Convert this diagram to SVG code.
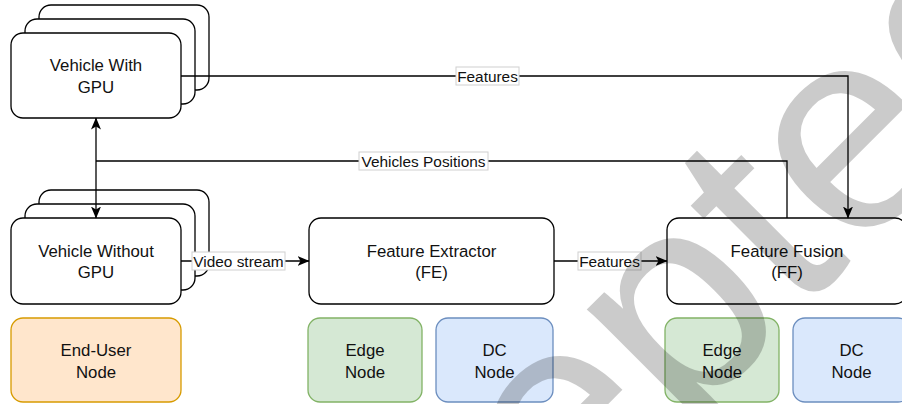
<svg xmlns="http://www.w3.org/2000/svg" width="902" height="404" viewBox="0 0 902 404">
<defs>
<style>
.box{fill:#fff;stroke:#000;stroke-width:1.3}
.t{font-family:"Liberation Sans",Arial,sans-serif;font-size:16.8px;fill:#111;text-anchor:middle}
.lt{font-family:"Liberation Sans",Arial,sans-serif;font-size:15.4px;fill:#111;text-anchor:middle}
.lbl{fill:#fff;stroke:#d0d0d0;stroke-width:1}
.edge{fill:none;stroke:#000;stroke-width:1.3}
.eu{fill:#ffe6cc;stroke:#d79b00;stroke-width:1.3}
.ed{fill:#d5e8d4;stroke:#82b366;stroke-width:1.3}
.dc{fill:#dae8fc;stroke:#6c8ebf;stroke-width:1.3}
</style>
<marker id="arr" viewBox="0 0 12 10" refX="11.5" refY="5" markerWidth="12" markerHeight="10" markerUnits="userSpaceOnUse" orient="auto-start-reverse">
<path d="M0,0 L12,5 L0,10 L3,5 Z" fill="#000"/>
</marker>
</defs>
<rect width="902" height="404" fill="#fff"/>

<g id="vehicle-with-gpu">
<rect class="box" x="39" y="5" width="170" height="85" rx="12"/>
<rect class="box" x="25" y="19" width="170" height="85" rx="12"/>
<rect class="box" x="11" y="33" width="170" height="85" rx="12"/>
<text class="t" x="96" y="71">Vehicle With</text>
<text class="t" x="96" y="92.5">GPU</text>
</g>

<g id="vehicle-without-gpu">
<rect class="box" x="39" y="190" width="170" height="86" rx="12"/>
<rect class="box" x="25" y="204" width="170" height="86" rx="12"/>
<rect class="box" x="11" y="218" width="170" height="86" rx="12"/>
<text class="t" x="96" y="256.5">Vehicle Without</text>
<text class="t" x="96" y="278">GPU</text>
</g>

<g id="feature-extractor">
<rect class="box" x="309" y="218" width="245" height="86" rx="12"/>
<text class="t" x="431.5" y="256.5">Feature Extractor</text>
<text class="t" x="431.5" y="278">(FE)</text>
</g>

<g id="feature-fusion">
<rect class="box" x="667" y="218" width="240" height="86" rx="12"/>
<text class="t" x="787" y="256.5">Feature Fusion</text>
<text class="t" x="787" y="278">(FF)</text>
</g>

<g id="end-user-node">
<rect class="eu" x="11" y="318" width="170" height="84" rx="12"/>
<text class="t" x="96" y="356">End-User</text>
<text class="t" x="96" y="377.5">Node</text>
</g>

<g id="edge-node-1">
<rect class="ed" x="308" y="318" width="114" height="84" rx="12"/>
<text class="t" x="365" y="356">Edge</text>
<text class="t" x="365" y="377.5">Node</text>
</g>

<g id="dc-node-1">
<rect class="dc" x="436" y="318" width="117" height="84" rx="12"/>
<text class="t" x="494.5" y="356">DC</text>
<text class="t" x="494.5" y="377.5">Node</text>
</g>

<g id="edge-node-2">
<rect class="ed" x="665" y="318" width="114" height="84" rx="12"/>
<text class="t" x="722" y="356">Edge</text>
<text class="t" x="722" y="377.5">Node</text>
</g>

<g id="dc-node-2">
<rect class="dc" x="793" y="318" width="117" height="84" rx="12"/>
<text class="t" x="851.5" y="356">DC</text>
<text class="t" x="851.5" y="377.5">Node</text>
</g>

<g id="connectors">
<path class="edge" d="M181,76 H848 V218" marker-end="url(#arr)"/>
<rect class="lbl" x="456" y="67" width="63" height="18"/>
<text class="lt" x="487.5" y="81.5">Features</text>

<path class="edge" d="M787,218 V161 H96"/>
<path class="edge" d="M96,118 V218" marker-start="url(#arr)" marker-end="url(#arr)"/>
<rect class="lbl" x="359" y="152" width="129" height="18"/>
<text class="lt" x="423.5" y="166.5">Vehicles Positions</text>

<path class="edge" d="M181,261 H309" marker-end="url(#arr)"/>
<rect class="lbl" x="192" y="252" width="93" height="18"/>
<text class="lt" x="238.5" y="266.5">Video stream</text>

<path class="edge" d="M554,261 H667" marker-end="url(#arr)"/>
<rect class="lbl" x="578" y="252" width="63" height="18"/>
<text class="lt" x="609.5" y="266.5">Features</text>
</g>

<g id="watermark" opacity="0.2">
<text x="226" y="887" transform="rotate(-45 226 887)" font-family="Liberation Sans, Arial, sans-serif" font-size="290" fill="#000">Accepted</text>
</g>
</svg>
